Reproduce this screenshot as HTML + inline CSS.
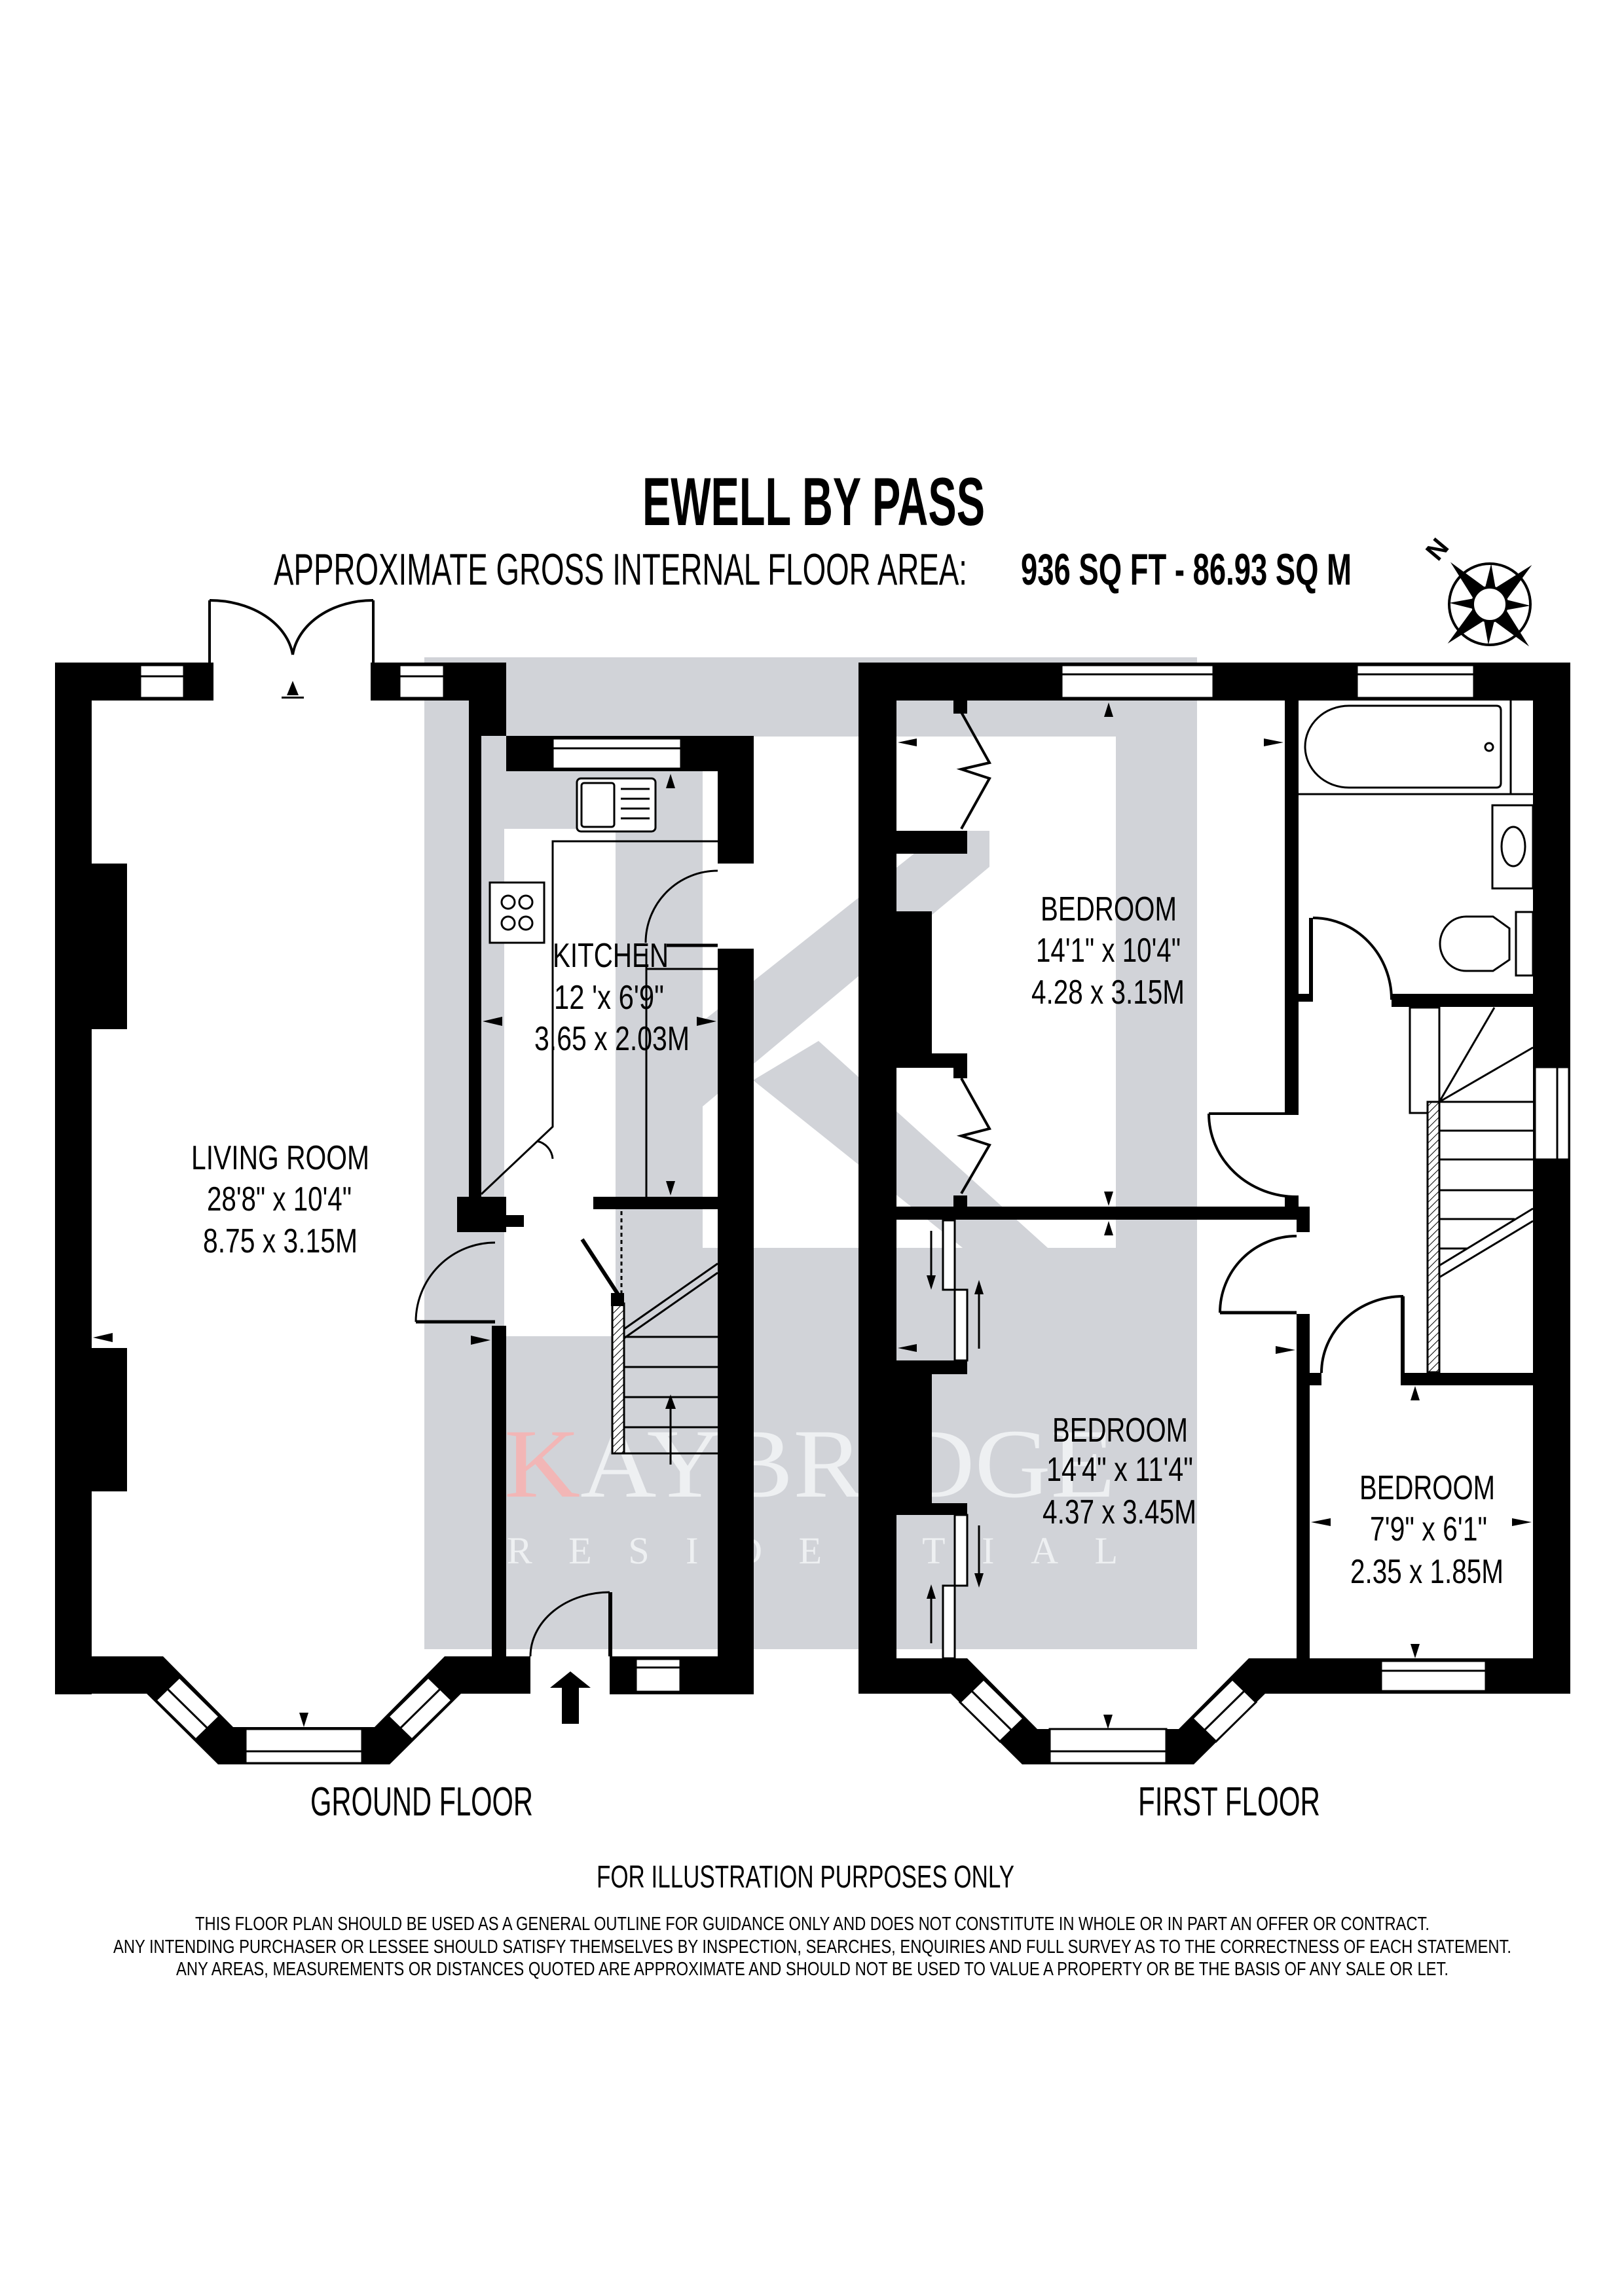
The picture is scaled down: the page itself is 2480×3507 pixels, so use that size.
<!DOCTYPE html>
<html><head><meta charset="utf-8"><style>
html,body{margin:0;padding:0;background:#fff}
svg{display:block}
text{font-family:"Liberation Sans",sans-serif}
</style></head><body>
<svg width="2480" height="3507" viewBox="0 0 2480 3507" xmlns="http://www.w3.org/2000/svg">
<defs>
<pattern id="hatch" width="8" height="8" patternUnits="userSpaceOnUse" patternTransform="rotate(45)">
<rect width="8" height="8" fill="#fff"/><line x1="0" y1="0" x2="0" y2="8" stroke="#000" stroke-width="2"/>
</pattern>
</defs>
<rect width="2480" height="3507" fill="#fff"/>

<!-- Watermark -->
<rect x="648" y="1004" width="1180" height="1515" fill="#d1d3d8"/>
<rect x="770" y="1125" width="934" height="781" fill="#fff"/>
<rect x="770" y="1125" width="170" height="141" fill="#d1d3d8"/>
<rect x="940" y="1125" width="133" height="781" fill="#d1d3d8"/>
<polygon points="1073,1560 1440,1269 1511,1269 1511,1324 1073,1690" fill="#d1d3d8"/>
<polygon points="1150,1650 1250,1590 1600,1906 1470,1906" fill="#d1d3d8"/>
<rect x="770" y="1906" width="170" height="135" fill="#fff"/>
<text x="770" y="2286" font-family="Liberation Serif,serif" font-size="150" fill="#eef0f2" textLength="933" lengthAdjust="spacingAndGlyphs" style="font-family:'Liberation Serif',serif"><tspan fill="#f2b6b6">K</tspan>AYBRIDGE</text>
<text x="774" y="2388" font-size="58" fill="#eef0f2" textLength="933" lengthAdjust="spacing" style="font-family:'Liberation Serif',serif">RESIDENTIAL</text>

<!-- Title -->
<text x="981" y="802" font-size="104" font-weight="bold" textLength="523" lengthAdjust="spacingAndGlyphs">EWELL BY PASS</text>
<text x="418" y="893" font-size="68" textLength="1059" lengthAdjust="spacingAndGlyphs">APPROXIMATE GROSS INTERNAL FLOOR AREA:</text>
<text x="1559" y="893" font-size="68" font-weight="bold" textLength="505" lengthAdjust="spacingAndGlyphs">936 SQ FT  -  86.93 SQ M</text>

<!-- Compass -->
<g transform="translate(2275,923)">
<circle r="62" fill="none" stroke="#000" stroke-width="4"/>
<g fill="#000">
<polygon points="0,-88 13,-20 -13,-20" transform="rotate(-43)"/>
<polygon points="0,-88 13,-20 -13,-20" transform="rotate(47)"/>
<polygon points="0,-88 13,-20 -13,-20" transform="rotate(137)"/>
<polygon points="0,-88 13,-20 -13,-20" transform="rotate(227)"/>
<polygon points="0,-62 9,-20 -9,-20" transform="rotate(2)"/>
<polygon points="0,-62 9,-20 -9,-20" transform="rotate(92)"/>
<polygon points="0,-62 9,-20 -9,-20" transform="rotate(182)"/>
<polygon points="0,-62 9,-20 -9,-20" transform="rotate(272)"/>
</g>
<circle r="26" fill="#fff" stroke="#000" stroke-width="4"/>
</g>
<text x="2196" y="852" font-size="40" font-weight="bold" transform="rotate(-50 2196 840)" text-anchor="middle">N</text>

<!-- ================= GROUND FLOOR ================= -->
<g fill="#000">
<rect x="84" y="1012" width="56" height="1576"/>
<rect x="84" y="1012" width="242" height="58"/>
<rect x="566" y="1012" width="207" height="58"/>
<rect x="716" y="1012" width="57" height="112"/>
<rect x="716" y="1124" width="19" height="704"/>
<rect x="698" y="1828" width="75" height="54"/>
<rect x="773" y="1856" width="27" height="18"/>
<rect x="140" y="1319" width="54" height="253"/>
<rect x="140" y="2059" width="54" height="219"/>
<rect x="773" y="1124" width="378" height="54"/>
<rect x="1096" y="1124" width="55" height="195"/>
<rect x="1096" y="1449" width="55" height="1139"/>
<rect x="906" y="1828" width="190" height="19"/>
<rect x="751" y="2025" width="22" height="505"/>
<polygon points="84,2530 249,2530 356,2638 572,2638 679,2530 810,2530 810,2587 704,2587 595,2695 333,2695 224,2587 84,2587"/>
<rect x="931" y="2530" width="220" height="58"/>
<rect x="929" y="2432" width="6" height="98"/>
</g>
<!-- french doors -->
<g fill="none" stroke="#000" stroke-width="4">
<line x1="320" y1="917" x2="320" y2="1012"/>
<line x1="570" y1="917" x2="570" y2="1012"/>
<path d="M320,917 A127,95 0 0 1 447,1000"/>
<path d="M570,917 A123,95 0 0 0 447,1000"/>
</g>
<!-- windows ground -->
<g fill="#fff" stroke="#000" stroke-width="3">
<rect x="214" y="1016" width="67" height="50"/><line x1="214" y1="1033" x2="281" y2="1033"/>
<rect x="610" y="1016" width="68" height="50"/><line x1="610" y1="1033" x2="678" y2="1033"/>
<rect x="844" y="1128" width="196" height="46"/><line x1="844" y1="1143" x2="1040" y2="1143"/>
<rect x="971" y="2534" width="68" height="50"/><line x1="971" y1="2547" x2="1039" y2="2547"/>
<rect x="375" y="2641" width="178" height="52"/><line x1="375" y1="2675" x2="553" y2="2675"/>
<polygon points="274,2562 335,2622 299,2657 238,2597"/><line x1="256" y1="2580" x2="317" y2="2640"/>
<polygon points="654,2562 593,2622 629,2657 690,2597"/><line x1="672" y1="2580" x2="611" y2="2640"/>
</g>
<!-- kitchen fittings -->
<g fill="none" stroke="#000" stroke-width="3">
<polyline points="735,1824 844,1721 844,1285 1096,1285"/>
<path d="M820,1743 A30,30 0 0 1 844,1770"/>
<line x1="987" y1="1449" x2="987" y2="1828"/>
<line x1="987" y1="1480" x2="1096" y2="1480"/>
<line x1="1018" y1="1444" x2="1096" y2="1444" stroke-width="5"/>
<path d="M1096,1330 A110,110 0 0 0 986,1440"/>
<rect x="748" y="1348" width="83" height="92" fill="#fff"/>
<circle cx="776" cy="1378" r="10"/><circle cx="803" cy="1378" r="10"/>
<circle cx="776" cy="1410" r="10"/><circle cx="803" cy="1410" r="10"/>
<rect x="881" y="1189" width="120" height="81" rx="6" fill="#fff"/>
<rect x="888" y="1196" width="50" height="67" rx="4"/>
<line x1="948" y1="1205" x2="992" y2="1205"/><line x1="948" y1="1220" x2="992" y2="1220"/>
<line x1="948" y1="1235" x2="992" y2="1235"/><line x1="948" y1="1250" x2="992" y2="1250"/>
<!-- living door -->
<path d="M635,2019 A121,121 0 0 1 756,1898"/>
<line x1="635" y1="2019" x2="756" y2="2019" stroke-width="5"/>
<!-- entry door -->
<path d="M810,2530 A121,98 0 0 1 931,2432"/>
<!-- stairs -->
<line x1="953" y1="2042" x2="1096" y2="2042"/>
<line x1="953" y1="2088" x2="1096" y2="2088"/>
<line x1="953" y1="2134" x2="1096" y2="2134"/>
<line x1="953" y1="2180" x2="1096" y2="2180"/>
<line x1="953" y1="2220" x2="1096" y2="2220"/>
<line x1="953" y1="2030" x2="1096" y2="1930"/>
<line x1="953" y1="2044" x2="1096" y2="1944"/>
<line x1="949" y1="1850" x2="949" y2="1985" stroke-dasharray="6,5"/>
<line x1="889" y1="1893" x2="949" y2="1985" stroke-width="6"/>
<line x1="1024" y1="2237" x2="1024" y2="2140"/>
</g>
<rect x="935" y="1991" width="18" height="229" fill="url(#hatch)" stroke="#000" stroke-width="3"/>
<rect x="933" y="1975" width="20" height="20" fill="#000"/>
<polygon points="1024,2130 1016,2152 1032,2152" fill="#000"/>
<polygon points="871,2553 902,2578 884,2578 884,2633 858,2633 858,2578 840,2578" fill="#000"/>
<!-- arrows ground -->
<g fill="#000">
<polygon points="447,1040 438,1062 456,1062"/><rect x="430" y="1064" width="34" height="3"/>
<polygon points="1024,1182 1017,1204 1031,1204"/>
<polygon points="737,1560 767,1553 767,1567"/>
<polygon points="1094,1560 1064,1553 1064,1567"/>
<polygon points="1024,1826 1017,1804 1031,1804"/>
<polygon points="142,2043 172,2036 172,2050"/>
<polygon points="749,2047 719,2040 719,2054"/>
<polygon points="464,2638 457,2616 471,2616"/>
</g>
<text x="292" y="1786" font-size="52" textLength="272" lengthAdjust="spacingAndGlyphs">LIVING ROOM</text>
<text x="316" y="1849" font-size="52" textLength="221" lengthAdjust="spacingAndGlyphs">28'8" x 10'4"</text>
<text x="310" y="1913" font-size="52" textLength="236" lengthAdjust="spacingAndGlyphs">8.75 x 3.15M</text>
<text x="844" y="1477" font-size="52" textLength="177" lengthAdjust="spacingAndGlyphs">KITCHEN</text>
<text x="846" y="1541" font-size="52" textLength="168" lengthAdjust="spacingAndGlyphs">12 'x 6'9"</text>
<text x="816" y="1604" font-size="52" textLength="237" lengthAdjust="spacingAndGlyphs">3.65 x 2.03M</text>

<!-- ================= FIRST FLOOR ================= -->
<g fill="#000">
<rect x="1311" y="1012" width="58" height="1575"/>
<rect x="1311" y="1012" width="1087" height="58"/>
<rect x="2341" y="1012" width="57" height="1575"/>
<rect x="1369" y="1392" width="54" height="217"/>
<rect x="1369" y="2099" width="54" height="197"/>
<rect x="1369" y="1269" width="108" height="35"/>
<rect x="1456" y="1070" width="21" height="20"/>
<rect x="1369" y="1609" width="108" height="22"/>
<rect x="1456" y="1631" width="21" height="16"/>
<rect x="1456" y="1826" width="21" height="20"/>
<rect x="1369" y="1843" width="631" height="20"/>
<rect x="1980" y="1843" width="20" height="39"/>
<rect x="1962" y="1070" width="21" height="629"/>
<rect x="1962" y="1826" width="21" height="20"/>
<rect x="1369" y="2078" width="108" height="21"/>
<rect x="1369" y="2296" width="108" height="18"/>
<rect x="1980" y="2007" width="20" height="580"/>
<rect x="2000" y="2097" width="18" height="19"/>
<rect x="2143" y="2097" width="198" height="19"/>
<rect x="2139" y="1980" width="6" height="136"/>
<rect x="1999" y="1402" width="6" height="128"/>
<rect x="1983" y="1518" width="22" height="12"/>
<rect x="2125" y="1518" width="216" height="20"/>
<polygon points="1311,2533 1477,2533 1584,2641 1800,2641 1907,2533 2398,2533 2398,2587 1932,2587 1823,2695 1561,2695 1452,2587 1311,2587"/>
</g>
<g fill="#fff" stroke="#000" stroke-width="3">
<rect x="1621" y="1016" width="232" height="50"/><line x1="1621" y1="1030" x2="1853" y2="1030"/>
<rect x="2072" y="1016" width="179" height="50"/><line x1="2072" y1="1030" x2="2251" y2="1030"/>
<rect x="2344" y="1630" width="52" height="141"/><line x1="2378" y1="1630" x2="2378" y2="1771"/>
<rect x="2109" y="2537" width="160" height="46"/><line x1="2109" y1="2552" x2="2269" y2="2552"/>
<rect x="1603" y="2641" width="178" height="52"/><line x1="1603" y1="2675" x2="1781" y2="2675"/>
<polygon points="1502,2565 1563,2625 1527,2660 1466,2600"/><line x1="1484" y1="2583" x2="1545" y2="2643"/>
<polygon points="1882,2565 1821,2625 1857,2660 1918,2600"/><line x1="1900" y1="2583" x2="1839" y2="2643"/>
<rect x="1440" y="1864" width="18" height="106"/>
<rect x="1458" y="1970" width="19" height="108"/>
<rect x="1458" y="2314" width="19" height="108"/>
<rect x="1440" y="2422" width="18" height="111"/>
</g>
<g fill="none" stroke="#000" stroke-width="4">
<polyline points="1468,1088 1511,1165 1468,1175 1511,1189 1468,1266"/>
<polyline points="1468,1647 1511,1724 1468,1735 1511,1749 1468,1823"/>
<!-- bedroom1 door -->
<line x1="1846" y1="1701" x2="1983" y2="1701" stroke-width="4"/>
<path d="M1846,1701 A134,127 0 0 0 1980,1828"/>
<!-- bedroom2 door -->
<line x1="1863" y1="2005" x2="1980" y2="2005" stroke-width="5"/>
<path d="M1863,2005 A117,117 0 0 1 1980,1888"/>
<!-- bedroom3 door -->
<path d="M2018,2097 A125,117 0 0 1 2143,1980"/>
<!-- bath door -->
<path d="M2005,1402 A120,125 0 0 1 2125,1527"/>
</g>
<g fill="none" stroke="#000" stroke-width="3">
<line x1="1983" y1="1213" x2="2341" y2="1213"/>
<line x1="2307" y1="1070" x2="2307" y2="1213"/>
<path d="M2060,1078 L2285,1078 Q2292,1078 2292,1085 L2292,1196 Q2292,1203 2285,1203 L2060,1203 A67,62.5 0 0 1 2060,1078 Z"/>
<circle cx="2274" cy="1141" r="6"/>
<rect x="2279" y="1230" width="62" height="127"/>
<ellipse cx="2311" cy="1293" rx="18" ry="30"/>
<rect x="2315" y="1393" width="26" height="97"/>
<path d="M2239,1400 L2280,1400 L2305,1418 L2305,1466 L2280,1483 L2239,1483 A40,41.5 0 0 1 2239,1400 Z"/>
<!-- stairs -->
<rect x="2153" y="1539" width="45" height="161"/>
<line x1="2198" y1="1539" x2="2198" y2="1683"/>
<line x1="2198" y1="1683" x2="2341" y2="1683"/>
<line x1="2198" y1="1727" x2="2341" y2="1727"/>
<line x1="2198" y1="1771" x2="2341" y2="1771"/>
<line x1="2198" y1="1818" x2="2341" y2="1818"/>
<line x1="2198" y1="1862" x2="2313" y2="1862"/>
<line x1="2198" y1="1907" x2="2240" y2="1907"/>
<line x1="2198" y1="1683" x2="2282" y2="1539"/>
<line x1="2198" y1="1683" x2="2341" y2="1600"/>
<line x1="2198" y1="1933" x2="2341" y2="1846"/>
<line x1="2198" y1="1951" x2="2341" y2="1865"/>
<!-- sliding arrows -->
<line x1="1422" y1="1880" x2="1422" y2="1960"/>
<line x1="1495" y1="1965" x2="1495" y2="2060"/>
<line x1="1495" y1="2330" x2="1495" y2="2415"/>
<line x1="1422" y1="2425" x2="1422" y2="2510"/>
</g>
<rect x="2180" y="1683" width="18" height="413" fill="url(#hatch)" stroke="#000" stroke-width="3"/>
<g fill="#000">
<polygon points="1422,1970 1415,1948 1429,1948"/>
<polygon points="1495,1955 1488,1977 1502,1977"/>
<polygon points="1495,2425 1488,2403 1502,2403"/>
<polygon points="1422,2420 1415,2442 1429,2442"/>
<polygon points="1693,1073 1686,1095 1700,1095"/>
<polygon points="1693,1842 1686,1820 1700,1820"/>
<polygon points="1693,1865 1686,1887 1700,1887"/>
<polygon points="1371,1134 1400,1128 1400,1140"/>
<polygon points="1960,1134 1930,1128 1930,1140"/>
<polygon points="1371,2059 1400,2053 1400,2065"/>
<polygon points="1978,2062 1948,2056 1948,2068"/>
<polygon points="2002,2325 2032,2319 2032,2331"/>
<polygon points="2339,2325 2309,2319 2309,2331"/>
<polygon points="2161,2117 2154,2139 2168,2139"/>
<polygon points="2161,2533 2154,2511 2168,2511"/>
<polygon points="1692,2641 1685,2619 1699,2619"/>
</g>
<text x="1589" y="1406" font-size="52" textLength="208" lengthAdjust="spacingAndGlyphs">BEDROOM</text>
<text x="1582" y="1469" font-size="52" textLength="221" lengthAdjust="spacingAndGlyphs">14'1" x 10'4"</text>
<text x="1575" y="1533" font-size="52" textLength="234" lengthAdjust="spacingAndGlyphs">4.28 x 3.15M</text>
<text x="1607" y="2202" font-size="52" textLength="207" lengthAdjust="spacingAndGlyphs">BEDROOM</text>
<text x="1598" y="2262" font-size="52" textLength="224" lengthAdjust="spacingAndGlyphs">14'4" x 11'4"</text>
<text x="1592" y="2327" font-size="52" textLength="235" lengthAdjust="spacingAndGlyphs">4.37 x 3.45M</text>
<text x="2076" y="2290" font-size="52" textLength="207" lengthAdjust="spacingAndGlyphs">BEDROOM</text>
<text x="2092" y="2353" font-size="52" textLength="179" lengthAdjust="spacingAndGlyphs">7'9" x 6'1"</text>
<text x="2062" y="2418" font-size="52" textLength="234" lengthAdjust="spacingAndGlyphs">2.35 x 1.85M</text>

<!-- Footer -->
<text x="474" y="2773" font-size="62" textLength="340" lengthAdjust="spacingAndGlyphs">GROUND FLOOR</text>
<text x="1738" y="2773" font-size="62" textLength="278" lengthAdjust="spacingAndGlyphs">FIRST FLOOR</text>
<text x="911" y="2883" font-size="48" textLength="638" lengthAdjust="spacingAndGlyphs">FOR ILLUSTRATION PURPOSES ONLY</text>
<text x="298" y="2948" font-size="29" textLength="1885" lengthAdjust="spacingAndGlyphs">THIS FLOOR PLAN SHOULD BE USED AS A GENERAL OUTLINE FOR GUIDANCE ONLY AND DOES NOT CONSTITUTE IN WHOLE OR IN PART AN OFFER OR CONTRACT.</text>
<text x="173" y="2983" font-size="29" textLength="2135" lengthAdjust="spacingAndGlyphs">ANY INTENDING PURCHASER OR LESSEE SHOULD SATISFY THEMSELVES BY INSPECTION, SEARCHES, ENQUIRIES AND FULL SURVEY AS TO THE CORRECTNESS OF EACH STATEMENT.</text>
<text x="269" y="3017" font-size="29" textLength="1943" lengthAdjust="spacingAndGlyphs">ANY AREAS, MEASUREMENTS OR DISTANCES QUOTED ARE APPROXIMATE AND SHOULD NOT BE USED TO VALUE A PROPERTY OR BE THE BASIS OF ANY SALE OR LET.</text>
</svg>
</body></html>
